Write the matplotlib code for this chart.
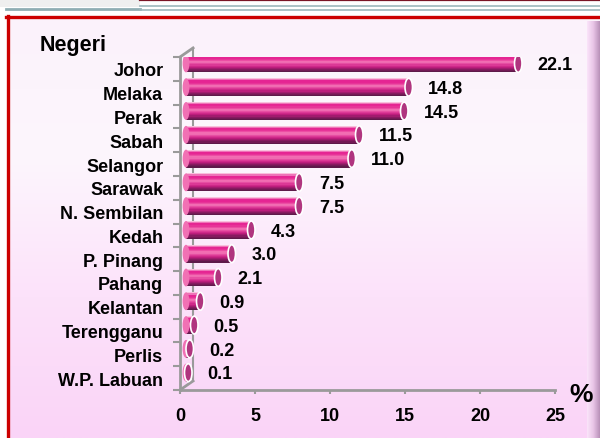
import numpy as np
import matplotlib
matplotlib.use("Agg")
from matplotlib import pyplot as plt
from matplotlib.patches import Rectangle, Ellipse
from matplotlib.colors import LinearSegmentedColormap

plt.rcParams['font.family'] = ['Liberation Sans', 'DejaVu Sans']
plt.rcParams['font.weight'] = 'bold'

negeri = ["Johor", "Melaka", "Perak", "Sabah", "Selangor", "Sarawak", "N. Sembilan",
          "Kedah", "P. Pinang", "Pahang", "Kelantan", "Terengganu", "Perlis", "W.P. Labuan"]
peratus = [22.1, 14.8, 14.5, 11.5, 11.0, 7.5, 7.5, 4.3, 3.0, 2.1, 0.9, 0.5, 0.2, 0.1]
x_ticks = [0, 5, 10, 15, 20, 25]

# bottom-up order for barh
labels = negeri[::-1]
vals = peratus[::-1]

fig = plt.figure(figsize=(6, 4.39), dpi=100)

# ---- background frame
bg = fig.add_axes([0, 0, 1, 1])
bg.set_xlim(0, 600)
bg.set_ylim(439, 0)
bg.axis("off")
bg.add_patch(Rectangle((0, 0), 600, 439, color="white", zorder=0))
grad = np.linspace(0, 1, 200).reshape(-1, 1)
pink = LinearSegmentedColormap.from_list("pinkbg", ["#FBF2FB", "#FDF6FD", "#FCE2FA", "#FAD4F7"])
bg.imshow(grad, cmap=pink, extent=(8, 600, 439, 18), aspect="auto", zorder=1)
side = np.linspace(0, 1, 50).reshape(1, -1)
bevel = LinearSegmentedColormap.from_list("bevel", ["#FBE4FA", "#E8C4E6", "#B890B8"])
bg.imshow(side, cmap=bevel, extent=(587, 600, 439, 22), aspect="auto", zorder=2)
bg.plot([7.5, 7.5], [17, 439], color="#CC0000", lw=2.4, zorder=3)
bg.plot([6, 600], [17.5, 17.5], color="#CC0000", lw=2.4, zorder=3)
# header strip
bg.add_patch(Rectangle((0, 0), 140, 8, facecolor="#EFEFEF", edgecolor="none", zorder=3))
bg.plot([6, 140], [10, 10], color="#8FAEB3", lw=2, zorder=3)
bg.plot([140, 600], [1, 1], color="#7A1526", lw=1.6, zorder=3)
bg.plot([140, 600], [6.5, 6.5], color="#9DB7BC", lw=1.2, zorder=3)
bg.plot([140, 600], [10.5, 10.5], color="#9DB7BC", lw=1.2, zorder=3)

# ---- chart
ax = fig.add_axes([0.3, 48 / 439, 0.625, 333 / 439])
ax.patch.set_alpha(0)
ax.set_xlim(0, 25)
ax.set_ylim(-0.5, 13.5)

grey = "#9A9A9A"
dx, dy = 0.87, 0.38
ax.plot([0, 0], [-0.5, 13.5], color=grey, lw=2, clip_on=False, zorder=2)
ax.plot([0, dx], [13.5, 13.5 + dy], color=grey, lw=2, clip_on=False, zorder=2)
ax.plot([0, dx], [-0.5, -0.5 + dy], color=grey, lw=2, clip_on=False, zorder=2)
ax.plot([dx, dx], [-0.5 + dy, 13.5 + dy], color=grey, lw=1.5, clip_on=False, zorder=2)

# cylinder bars made of colour strips
bar_cmap = LinearSegmentedColormap.from_list(
    "cyl", ["#F8C0DC", "#E41A8E", "#E8389A", "#F47AB8", "#E2409C", "#C41E80", "#8A1A62", "#5E1A4A"])
x0 = 0.4
off = 0.45
h = 0.75
n = 16
ypos = np.arange(len(vals)) + 0.23
for i, (y, v) in enumerate(zip(ypos, vals)):
    w = v + off - x0
    for k in range(n):
        c = bar_cmap(k / (n - 1))
        yk = y + h / 2 - (k + 0.5) * h / n
        ax.barh(yk, w, left=x0, height=h / n + 0.005, color=c, linewidth=0, zorder=3)
    ax.add_patch(Ellipse((x0, y), 0.45, h, facecolor=bar_cmap(0.45), edgecolor="none", zorder=3))
    ax.add_patch(Ellipse((v + off, y), 0.5, h, facecolor="#B0357F", edgecolor="white", lw=1.2, zorder=4))
    ax.text(v + 1.75, y - 0.05, f"{v:.1f}", va="center", ha="left", fontsize=13, fontweight="bold")

ax.set_yticks(range(len(labels)))
ax.set_yticklabels(labels, fontsize=13, fontweight="bold")
ax.set_yticks(np.arange(-0.5, 14, 1), minor=True)
ax.tick_params(axis="y", which="major", length=0, pad=12)
ax.tick_params(axis="y", which="minor", length=5, width=1.5, color=grey)

ax.set_xticks(x_ticks)
ax.set_xticklabels([str(t) for t in x_ticks], fontsize=13, fontweight="bold")
ax.tick_params(axis="x", length=3, width=1.5, color=grey, pad=9)

for s in ["top", "right", "left"]:
    ax.spines[s].set_visible(False)
ax.spines["bottom"].set_color(grey)
ax.spines["bottom"].set_linewidth(2)

fig.text(40 / 600, 1 - 46 / 439, "Negeri", fontsize=15.5, fontweight="bold", va="center", ha="left")
fig.text(569 / 600, 1 - 395 / 439, "%", fontsize=19, fontweight="bold", va="center", ha="left")

plt.savefig("out.png", dpi=100)
